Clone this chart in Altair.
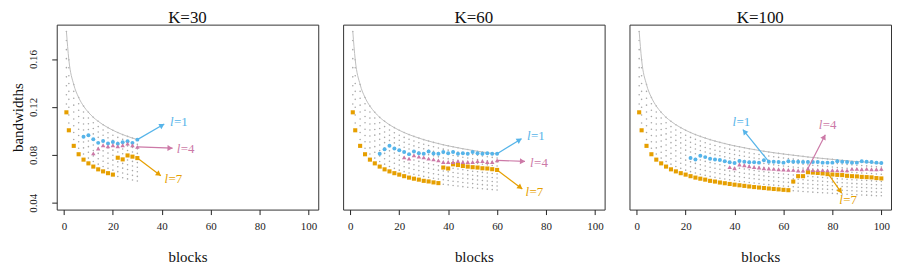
import math
import altair as alt
import pandas as pd

FONT = "Liberation Serif"
BLUE = "#56B4E9"
PINK = "#CC79A7"
ORANGE = "#E69F00"
GREY = "#BEBEBE"

panel_k = [30, 60, 100]
panel_titles = ["K=30", "K=60", "K=100"]

# block positions (x) of the candidate grid
block_x = [1] + list(range(2, 101, 2))
# upper bound curve read at each block position
upper_curve = [0.1830, 0.1593, 0.1387, 0.1279, 0.1207, 0.1155, 0.1113, 0.1080, 0.1051, 0.1027,
               0.1005, 0.0986, 0.0969, 0.0954, 0.0940, 0.0927, 0.0915, 0.0904, 0.0894, 0.0884,
               0.0875, 0.0867, 0.0859, 0.0851, 0.0844, 0.0837, 0.0830, 0.0824, 0.0818, 0.0812,
               0.0807, 0.0802, 0.0797, 0.0792, 0.0787, 0.0782, 0.0778, 0.0774, 0.0770, 0.0766,
               0.0762, 0.0758, 0.0754, 0.0751, 0.0747, 0.0744, 0.0741, 0.0738, 0.0735, 0.0731,
               0.0729]
# candidate levels, as a share of the upper curve
grid_levels = [1.0, 0.959, 0.917, 0.876, 0.835, 0.793, 0.752, 0.711, 0.669, 0.628]

# l=1 (blue circles)
blue_x30 = list(range(8, 31, 2))
blue_k30 = [0.0952, 0.0963, 0.0930, 0.0900, 0.0916, 0.0894, 0.0908, 0.0892, 0.0905, 0.0913, 0.0900, 0.0927]
blue_x60 = list(range(12, 61, 2))
blue_k60 = [0.0809, 0.0847, 0.0875, 0.0853, 0.0839, 0.0823, 0.0806, 0.0828, 0.0814, 0.0809,
            0.0828, 0.0812, 0.0809, 0.0823, 0.0814, 0.0823, 0.0809, 0.0814, 0.0809, 0.0823,
            0.0814, 0.0809, 0.0814, 0.0809, 0.0809]
blue_x100 = list(range(22, 101, 2))
blue_k100 = [0.0773, 0.0762, 0.0793, 0.0781, 0.0768, 0.0762, 0.0757, 0.0746, 0.0738, 0.0732,
             0.0748, 0.0743, 0.0738, 0.0738, 0.0735, 0.0754, 0.0743, 0.0743, 0.0740, 0.0735,
             0.0746, 0.0743, 0.0743, 0.0740, 0.0740, 0.0740, 0.0740, 0.0735, 0.0735, 0.0735,
             0.0746, 0.0743, 0.0740, 0.0735, 0.0735, 0.0746, 0.0743, 0.0740, 0.0735, 0.0732]

# l=4 (pink triangles)
pink_x30 = list(range(12, 31, 2))
pink_k30 = [0.0812, 0.0853, 0.0880, 0.0872, 0.0880, 0.0872, 0.0880, 0.0894, 0.0880, 0.0866]
pink_x60 = list(range(22, 61, 2))
pink_k60 = [0.0779, 0.0768, 0.0795, 0.0785, 0.0779, 0.0768, 0.0762, 0.0754, 0.0740, 0.0740,
            0.0740, 0.0748, 0.0740, 0.0740, 0.0740, 0.0748, 0.0748, 0.0740, 0.0740, 0.0754]
pink_x100 = list(range(38, 101, 2))
pink_k100 = [0.0697, 0.0688, 0.0719, 0.0713, 0.0705, 0.0697, 0.0694, 0.0688, 0.0686, 0.0683,
             0.0680, 0.0678, 0.0674, 0.0674, 0.0669, 0.0669, 0.0686, 0.0672, 0.0672, 0.0672,
             0.0670, 0.0672, 0.0670, 0.0670, 0.0670, 0.0683, 0.0683, 0.0680, 0.0683, 0.0680,
             0.0680, 0.0683]

# l=7 (orange squares)
orange_x30 = [1] + list(range(2, 31, 2))
orange_k30 = [0.1155, 0.1005, 0.0875, 0.0805, 0.0760, 0.0729, 0.0702, 0.0679, 0.0662, 0.0647,
              0.0635, 0.0776, 0.0762, 0.0795, 0.0785, 0.0773]
orange_x60 = [1] + list(range(2, 61, 2))
orange_k60 = [0.1155, 0.1005, 0.0875, 0.0805, 0.0760, 0.0729, 0.0702, 0.0679, 0.0662, 0.0647,
              0.0635, 0.0622, 0.0610, 0.0601, 0.0593, 0.0583, 0.0578, 0.0570, 0.0564, 0.0694,
              0.0686, 0.0721, 0.0715, 0.0707, 0.0702, 0.0697, 0.0694, 0.0688, 0.0686, 0.0680,
              0.0674]
orange_x100 = [1] + list(range(2, 101, 2))
orange_k100 = [0.1155, 0.1005, 0.0875, 0.0805, 0.0760, 0.0729, 0.0702, 0.0679, 0.0662, 0.0647,
               0.0635, 0.0622, 0.0610, 0.0601, 0.0593, 0.0583, 0.0577, 0.0569, 0.0563, 0.0557,
               0.0551, 0.0546, 0.0541, 0.0536, 0.0531, 0.0527, 0.0523, 0.0519, 0.0515, 0.0512,
               0.0508, 0.0505, 0.0577, 0.0622, 0.0622, 0.0655, 0.0652, 0.0649, 0.0645, 0.0639,
               0.0636, 0.0633, 0.0631, 0.0625, 0.0622, 0.0620, 0.0616, 0.0614, 0.0612, 0.0606,
               0.0603]

# arrows: start x, start y, end x, end y, label x, label y, label
arrows_k30 = [(30, 0.0927, 41.0, 0.1057, 43.4, 0.1073, "1", BLUE),
              (30, 0.0866, 44.4, 0.0856, 46.1, 0.0845, "4", PINK),
              (30, 0.0773, 39.6, 0.0625, 41.1, 0.0598, "7", ORANGE)]
arrows_k60 = [(60, 0.0809, 70.0, 0.0935, 72.2, 0.0960, "1", BLUE),
              (60, 0.0754, 71.4, 0.0745, 73.5, 0.0735, "4", PINK),
              (60, 0.0674, 70.3, 0.0515, 71.6, 0.0493, "7", ORANGE)]
arrows_k100 = [(54, 0.0743, 43.4, 0.1010, 39.2, 0.1075, "1", BLUE),
               (70, 0.0686, 77.1, 0.0968, 74.4, 0.1050, "4", PINK),
               (78, 0.0649, 83.8, 0.0480, 82.8, 0.0419, "7", ORANGE)]

series = {
    30: (blue_x30, blue_k30, pink_x30, pink_k30, orange_x30, orange_k30, arrows_k30),
    60: (blue_x60, blue_k60, pink_x60, pink_k60, orange_x60, orange_k60, arrows_k60),
    100: (blue_x100, blue_k100, pink_x100, pink_k100, orange_x100, orange_k100, arrows_k100),
}

W, H = 263, 186
XD = [-2.96, 103.96]
YD = [0.0343, 0.1887]
px_x = W / (XD[1] - XD[0])
px_y = H / (YD[1] - YD[0])

xscale = alt.Scale(domain=XD, nice=False, zero=False)
yscale = alt.Scale(domain=YD, nice=False, zero=False)

x_axis = alt.Axis(values=[0, 20, 40, 60, 80, 100], title="blocks", grid=False, domain=False,
                  tickSize=5, tickColor="#222", labelColor="#222", labelFont=FONT, labelFontSize=11,
                  labelPadding=6, titleFont=FONT, titleFontSize=15, titleFontWeight="normal",
                  titleColor="#111", titlePadding=18)
y_axis = alt.Axis(values=[0.04, 0.06, 0.08, 0.10, 0.12, 0.14, 0.16, 0.18], format=".2f",
                  labelExpr="indexof(['0.04','0.08','0.12','0.16'], datum.label) >= 0 ? datum.label : ''",
                  title="bandwidths", grid=False, domain=False, tickSize=5, tickColor="#222",
                  labelColor="#222", labelFont=FONT, labelFontSize=11, labelAngle=-90,
                  labelAlign="center", labelBaseline="bottom", labelPadding=13,
                  titleFont=FONT, titleFontSize=15, titleFontWeight="normal", titleColor="#111",
                  titlePadding=2)


def panel(k, title, first):
    bx, bv, px_, pv, ox, ov, arr = series[k]
    grid_rows = []
    for xi, u in zip(block_x, upper_curve):
        if xi <= k:
            for lv in grid_levels:
                grid_rows.append({"x": xi, "y": u * lv})
    grid_df = pd.DataFrame(grid_rows)
    curve_df = pd.DataFrame({"x": [x for x in block_x if x <= k],
                             "y": [u for x, u in zip(block_x, upper_curve) if x <= k]})
    yax = y_axis if first else None
    X = alt.X("x:Q", scale=xscale, axis=x_axis)
    Y = alt.Y("y:Q", scale=yscale, axis=yax)

    dots = alt.Chart(grid_df).mark_point(filled=True, shape="circle", size=2.5, color="#A8A8A8",
                                          opacity=1).encode(x=X, y=Y)
    curve = alt.Chart(curve_df).mark_line(color=GREY, strokeWidth=1, interpolate="monotone").encode(
        x=alt.X("x:Q", scale=xscale), y=alt.Y("y:Q", scale=yscale))

    def pts(xs, vs, color, shape, size):
        return alt.Chart(pd.DataFrame({"x": xs, "y": vs})).mark_point(
            filled=True, shape=shape, size=size, color=color, opacity=1).encode(
            x=alt.X("x:Q", scale=xscale), y=alt.Y("y:Q", scale=yscale))

    layers = [dots, curve,
              pts(ox, ov, ORANGE, "square", 17),
              pts(bx, bv, BLUE, "circle", 16),
              pts(px_, pv, PINK, "triangle-up", 20)]

    arows = []
    for x0, y0, x1, y1, lx, ly, lab, col in arr:
        dx = (x1 - x0) * px_x
        dy = -(y1 - y0) * px_y
        ang = math.degrees(math.atan2(dy, dx)) % 360
        L = math.hypot(dx, dy)
        back = 2.5
        hx = x1 - dx / L * back / px_x
        hy = y1 + dy / L * back / px_y
        arows.append({"x0": x0, "y0": y0, "x1": x1, "y1": y1, "hx": hx, "hy": hy, "ang": ang,
                      "lx": lx, "ly": ly, "lab": "=" + lab, "col": col})
    adf = pd.DataFrame(arows)
    rules = alt.Chart(adf).mark_rule(strokeWidth=1.2).encode(
        x=alt.X("x0:Q", scale=xscale), y=alt.Y("y0:Q", scale=yscale),
        x2="x1:Q", y2="y1:Q", color=alt.Color("col:N", scale=None))
    heads = alt.Chart(adf).mark_point(filled=True, shape="triangle-right", size=36, opacity=1).encode(
        x=alt.X("hx:Q", scale=xscale), y=alt.Y("hy:Q", scale=yscale),
        angle=alt.Angle("ang:Q", scale=None), color=alt.Color("col:N", scale=None))
    lab_l = alt.Chart(adf).mark_text(text="l", fontStyle="italic", font=FONT, fontSize=13,
                                     align="left", baseline="middle").encode(
        x=alt.X("lx:Q", scale=xscale), y=alt.Y("ly:Q", scale=yscale),
        color=alt.Color("col:N", scale=None))
    lab_r = alt.Chart(adf).mark_text(font=FONT, fontSize=13, align="left", baseline="middle",
                                     dx=4).encode(
        x=alt.X("lx:Q", scale=xscale), y=alt.Y("ly:Q", scale=yscale), text="lab:N",
        color=alt.Color("col:N", scale=None))
    layers += [rules, heads, lab_l, lab_r]
    return alt.layer(*layers).properties(
        width=W, height=H,
        title=alt.TitleParams(title, font=FONT, fontSize=17, fontWeight="normal", color="#111",
                              anchor="middle", offset=-2.5))


charts = [panel(k, t, i == 0) for i, (k, t) in enumerate(zip(panel_k, panel_titles))]
chart = alt.hconcat(*charts, spacing=25, bounds="flush").properties(
    padding={"left": 2, "top": 0, "right": 0, "bottom": 0}
).configure_view(stroke="#333", strokeWidth=1)

chart.save("out.html", embed_options={"renderer": "svg", "actions": False})
